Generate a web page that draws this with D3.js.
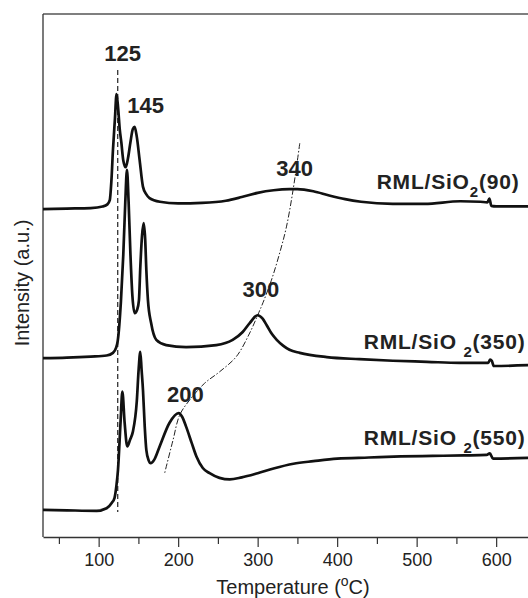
<!DOCTYPE html>
<html>
<head>
<meta charset="utf-8">
<script src="https://cdn.jsdelivr.net/npm/d3@7"></script>
<style>
  body { margin: 0; background: #fff; }
  svg { display: block; font-family: "Liberation Sans", Arial, sans-serif; }
</style>
</head>
<body>
<div id="chart"></div>
<script>
// TPR traces, temperature (°C) vs intensity (a.u.)
var temp90 = [30, 60, 90, 105, 111, 114, 116, 118, 120.5, 122.5, 124.5, 126.5, 128.5, 131, 134, 137, 140, 143, 145.3, 148, 151.6, 155.7, 160, 164, 177, 200, 230, 260, 280, 300, 320, 340, 350, 370, 390, 410, 430, 470, 510, 555, 580, 589, 591.5, 594, 600, 650];
var int90 = [62.7, 62.8, 62.9, 63.2, 63.6, 64.4, 68, 74, 80, 84.7, 82, 78, 75.5, 72, 70.7, 72.5, 75.5, 78, 78.4, 76.5, 72, 67, 65.5, 64.8, 64.1, 63.8, 63.9, 64.3, 65.0, 65.8, 66.3, 66.5, 66.5, 66.1, 65.3, 64.6, 64.1, 63.7, 63.7, 64.2, 64.1, 64.0, 64.7, 63.3, 63.2, 63.2];

var temp350 = [30, 60, 90, 110, 118, 122, 124, 128, 131, 133.5, 135.6, 137.7, 140, 142.5, 145.3, 148.5, 150.7, 152.4, 154.5, 156.6, 158.5, 160, 162, 166, 172.5, 185, 210, 248, 268.6, 281.2, 290, 300, 306, 311.4, 318, 324, 332, 340, 353, 387, 428, 470, 513, 554, 590, 592.5, 594.5, 597, 650];
var int350 = [34.2, 34.3, 34.5, 34.7, 35.2, 36.2, 37.5, 45, 54, 64, 70.2, 64, 54, 46, 42.8, 43.5, 45.3, 51.6, 57.5, 60, 57, 51, 45.3, 40.9, 37.7, 36.7, 36.3, 36.7, 37.7, 39.2, 40.9, 42.4, 41.8, 40.5, 38.8, 37.7, 36.6, 35.8, 35.2, 34.4, 34.0, 33.7, 33.5, 33.3, 33.3, 33.9, 33.7, 32.7, 32.9];

var temp550 = [30, 60, 97.5, 110, 116.4, 120, 122.5, 124.3, 127.7, 129.8, 132.7, 136, 139.5, 143, 148, 150.3, 152.4, 154, 155.8, 158, 160, 163, 165.4, 170, 176.7, 189, 200.6, 205, 210, 217, 223, 231, 239.6, 252, 265, 280, 300, 320, 345, 370, 400, 440, 480, 520, 560, 588, 592, 596, 650];
var int550 = [5.2, 5.1, 5.0, 5.5, 6.5, 7.5, 10, 12.8, 22.4, 27.8, 21.8, 17.3, 18.6, 20.1, 26, 32, 35.4, 32, 28, 21, 16.6, 14.6, 14.1, 14.8, 17.3, 21.8, 23.7, 23, 21.1, 18, 15.4, 13.2, 12.2, 11.3, 11.0, 11.4, 12.2, 13.1, 14.0, 14.5, 15.0, 15.2, 15.4, 15.5, 15.6, 15.7, 16.0, 15.0, 15.2];

// guide lines
var peakLineT = [124, 124];
var peakLineI = [89.3, 4.8];
var shiftLineT = [353, 344.5, 336.2, 327.7, 317.3, 306.7, 300, 290, 273.2, 252.2, 233.3, 214.5, 201.9, 193.5, 183];
var shiftLineI = [75.3, 66.3, 59.3, 54.3, 49.1, 44.8, 42.4, 39.0, 34.5, 31.6, 29.4, 26.2, 23.3, 18.5, 12.2];

// annotations
var peakLabels = ["125", "145", "340", "300", "200"];
var peakLabelT = [130.2, 159.1, 346.6, 304, 209];
var peakLabelI = [92.5, 82.6, 70.6, 47.4, 27.3];
var sampleTemps = ["90", "350", "550"];
var sampleLabelT = [449.7, 433.4, 433.4];
var sampleLabelI = [67.9, 37.3, 19.1];

var majorTicks = [100, 200, 300, 400, 500, 600];
var minorTicks = [50, 150, 250, 350, 450, 550, 650];

var width = 528, height = 598;
var marginLeft = 43, marginTop = 14, axisY = 537;

var svg = d3.select("#chart").append("svg")
    .attr("width", width)
    .attr("height", height);

var x = d3.scaleLinear().domain([30, 650]).range([marginLeft, marginLeft + 620 * 0.795]);
var y = d3.scaleLinear().domain([0, 100]).range([axisY, marginTop]);

var line = d3.line()
    .x(function (d) { return x(d[0]); })
    .y(function (d) { return y(d[1]); })
    .curve(d3.curveMonotoneX);

/* ------- FRAME & AXES -------*/
svg.append("line")
    .attr("x1", marginLeft).attr("x2", x(650)).attr("y1", marginTop).attr("y2", marginTop)
    .attr("stroke", "#555").attr("stroke-width", 1.3);
svg.append("line")
    .attr("x1", marginLeft).attr("x2", marginLeft).attr("y1", marginTop).attr("y2", axisY)
    .attr("stroke", "#333").attr("stroke-width", 1.3);

var minorAxis = svg.append("g")
    .attr("transform", "translate(0," + axisY + ")")
    .call(d3.axisBottom(x).tickValues(minorTicks).tickSize(7).tickFormat(""));
minorAxis.select(".domain").remove();

var xAxis = svg.append("g")
    .attr("transform", "translate(0," + axisY + ")")
    .call(d3.axisBottom(x).tickValues(majorTicks).tickSize(10).tickPadding(6).tickSizeOuter(0));
xAxis.selectAll("text")
    .attr("font-size", 18)
    .attr("font-family", "'Liberation Sans', Arial, sans-serif")
    .attr("fill", "#222");

svg.selectAll(".domain").attr("stroke", "#333").attr("stroke-width", 1.3);
svg.selectAll(".tick line").attr("stroke", "#333").attr("stroke-width", 1.2);

var xTitle = svg.append("text")
    .attr("x", 293).attr("y", 594)
    .attr("text-anchor", "middle")
    .attr("font-size", 20)
    .attr("fill", "#222");
xTitle.append("tspan").text("Temperature (");
xTitle.append("tspan").attr("font-size", 14).attr("dy", -8).text("o");
xTitle.append("tspan").attr("dy", 8).text("C)");

svg.append("text")
    .attr("transform", "translate(29,283) rotate(-90)")
    .attr("text-anchor", "middle")
    .attr("font-size", 20)
    .attr("fill", "#222")
    .text("Intensity (a.u.)");

/* ------- GUIDE LINES -------*/
svg.append("path")
    .attr("d", line(d3.zip(peakLineT, peakLineI)))
    .attr("fill", "none")
    .attr("stroke", "#222")
    .attr("stroke-width", 1.2)
    .attr("stroke-dasharray", "5,3");

svg.append("path")
    .attr("d", d3.line()
        .x(function (d) { return x(d[0]); })
        .y(function (d) { return y(d[1]); })
        .curve(d3.curveCatmullRom)(d3.zip(shiftLineT, shiftLineI)))
    .attr("fill", "none")
    .attr("stroke", "#222")
    .attr("stroke-width", 1)
    .attr("stroke-dasharray", "6,2,1.5,2");

/* ------- TRACES -------*/
var traces = [d3.zip(temp90, int90), d3.zip(temp350, int350), d3.zip(temp550, int550)];
svg.selectAll("path.trace")
    .data(traces)
    .enter().append("path")
    .attr("class", "trace")
    .attr("d", line)
    .attr("fill", "none")
    .attr("stroke", "#111")
    .attr("stroke-width", 2.7)
    .attr("stroke-linejoin", "round");

/* ------- LABELS -------*/
svg.selectAll("text.peak")
    .data(peakLabels)
    .enter().append("text")
    .attr("class", "peak")
    .attr("x", function (d, i) { return x(peakLabelT[i]); })
    .attr("y", function (d, i) { return y(peakLabelI[i]); })
    .attr("dy", "0.36em")
    .attr("text-anchor", "middle")
    .attr("font-size", 22)
    .attr("font-weight", "bold")
    .attr("fill", "#222")
    .text(function (d) { return d; });

sampleTemps.forEach(function (t, i) {
    var txt = svg.append("text")
        .attr("x", x(sampleLabelT[i]))
        .attr("y", y(sampleLabelI[i]))
        .attr("dy", "0.36em")
        .attr("font-size", 21)
        .attr("font-weight", "bold")
        .attr("letter-spacing", 0.8)
        .attr("fill", "#222");
    txt.append("tspan").text(i === 0 ? "RML/SiO" : "RML/SiO ");
    txt.append("tspan").attr("font-size", 15).attr("dy", 8).text("2");
    txt.append("tspan").attr("dy", -8).text("(" + t + ")");
});
</script>
</body>
</html>
